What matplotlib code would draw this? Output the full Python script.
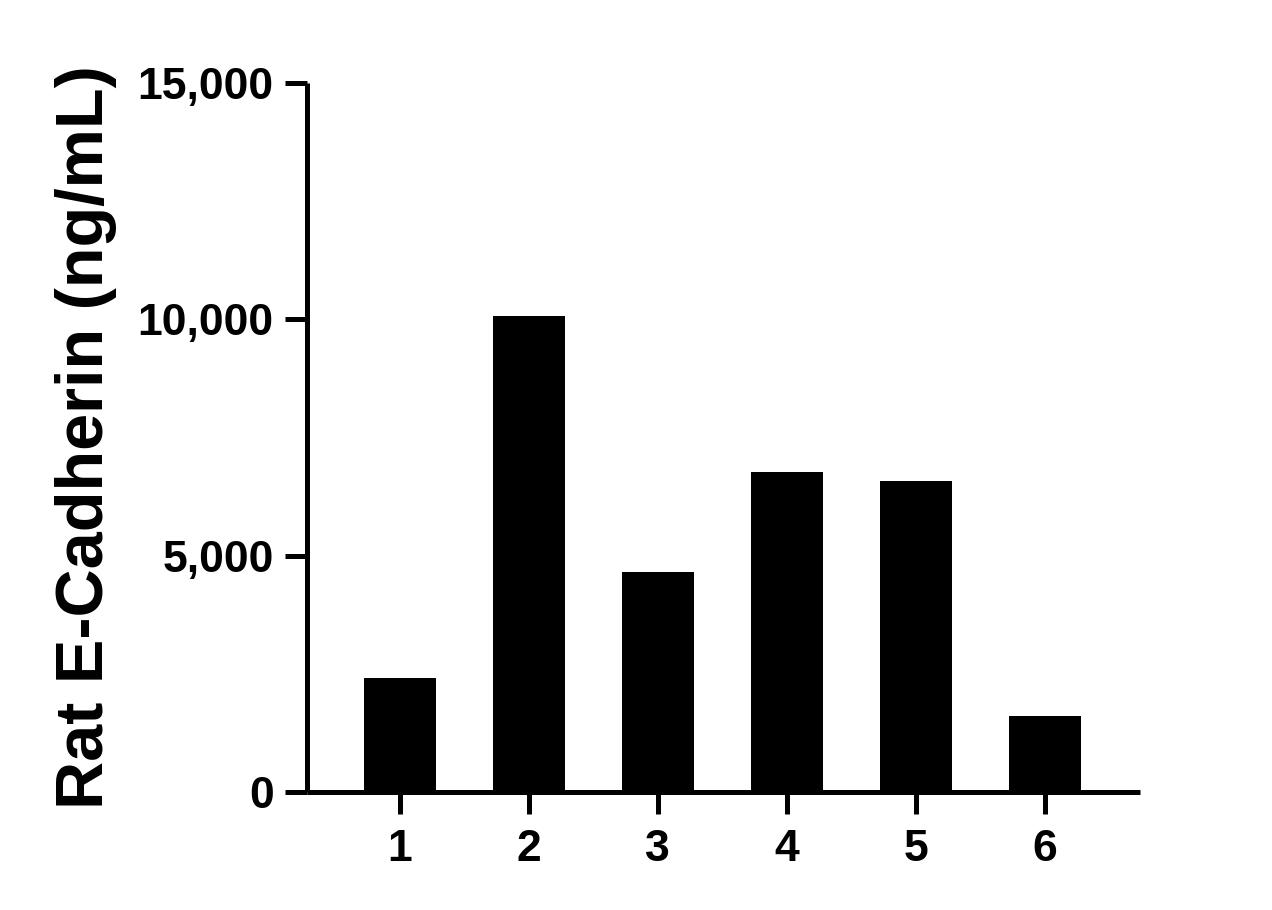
import matplotlib.pyplot as plt
from matplotlib.ticker import FuncFormatter

# sample groups and measured concentration
groups = [1, 2, 3, 4, 5, 6]
labels = ['1', '2', '3', '4', '5', '6']
values = [2410, 10080, 4650, 6770, 6580, 1610]

plt.rcParams['font.family'] = ['Liberation Sans', 'DejaVu Sans']
plt.rcParams['font.weight'] = 'bold'

fig = plt.figure(figsize=(12.72, 9.10), dpi=100)
ax = fig.add_axes([0.2413, 0.1297, 0.6547, 0.7791])

ax.bar(groups, values, width=0.56, color='black')

ax.set_xlim(0.28, 6.736)
ax.set_ylim(0, 15000)
ax.set_yticks([0, 5000, 10000, 15000])
ax.yaxis.set_major_formatter(FuncFormatter(lambda v, p: f'{int(v):,}'))
ax.set_xticks(groups)
ax.set_xticklabels(labels)

for s in ['top', 'right']:
    ax.spines[s].set_visible(False)
for s in ['left', 'bottom']:
    ax.spines[s].set_linewidth(3.6)
    ax.spines[s].set_capstyle('butt')

ax.tick_params(axis='both', width=3.6, length=16, labelsize=32)
ax.tick_params(axis='y', pad=8)
ax.tick_params(axis='x', pad=11)
for t in ax.get_xticklabels() + ax.get_yticklabels():
    t.set_fontweight('bold')

# y axis title, centred on the axes height
fig.text(86 / 1272, 0.1297 + 0.7791 / 2, 'Rat E-Cadherin (ng/mL)', rotation=90,
         ha='center', va='center', fontsize=48, fontweight='bold')

fig.savefig('out.png', dpi=100)
